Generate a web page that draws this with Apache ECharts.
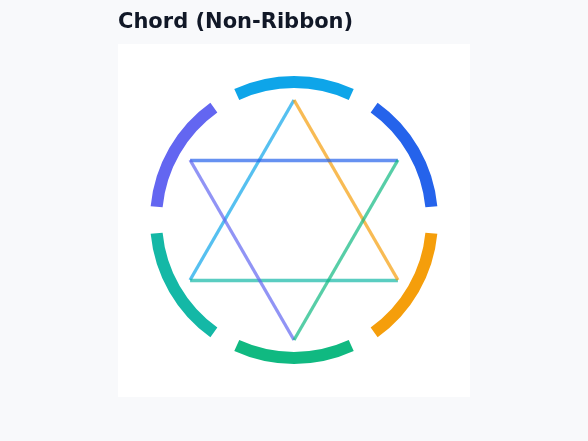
<!DOCTYPE html>
<html>
<head>
<meta charset="utf-8">
<style>
  html, body { margin: 0; padding: 0; background: #f8f9fb; }
  #chart { width: 588px; height: 441px; }
</style>
<script src="https://cdn.jsdelivr.net/npm/echarts@6/dist/echarts.min.js"></script>
</head>
<body>
<div id="chart"></div>
<script>
"use strict";

// nodes in layout order (circular layout starts at bottom-right, goes clockwise)
var nodeNames = ['D', 'E', 'F', 'A', 'B', 'C'];
var nodeColors = ['#f59e0b', '#10b981', '#14b8a6', '#6366f1', '#0ea5e9', '#2563eb'];
var nodeWeights = [1, 1, 1, 1, 1, 1];

// links (source -> target)
var linkSources = ['B', 'F', 'D', 'C', 'A', 'E'];
var linkTargets = ['F', 'D', 'B', 'A', 'E', 'C'];

var colorOf = {};
nodeNames.forEach(function (n, i) { colorOf[n] = nodeColors[i]; });

var chart = echarts.init(document.getElementById('chart'));

chart.setOption({
  backgroundColor: '#f8f9fb',
  animation: false,
  title: {
    text: 'Chord (Non-Ribbon)',
    left: 113,
    top: 7,
    textStyle: {
      fontFamily: 'DejaVu Sans',
      fontSize: 21,
      fontWeight: 'bold',
      color: '#111827'
    }
  },
  graphic: [{
    type: 'rect',
    z: -10,
    shape: { x: 118, y: 44, width: 352, height: 353 },
    style: { fill: '#ffffff' }
  }],
  series: [{
    type: 'pie',
    center: [294, 220],
    radius: [132, 144],
    startAngle: 0,
    clockwise: true,
    padAngle: 11,
    label: { show: false },
    labelLine: { show: false },
    silent: true,
    data: nodeNames.map(function (n, i) {
      return { name: n, value: nodeWeights[i], itemStyle: { color: nodeColors[i] } };
    })
  }, {
    type: 'graph',
    layout: 'circular',
    left: 174,
    top: 100,
    width: 240,
    height: 240,
    symbolSize: 1,
    itemStyle: { opacity: 0 },
    label: { show: false },
    silent: true,
    data: nodeNames.map(function (n, i) {
      return { name: n, value: nodeWeights[i] };
    }),
    links: linkSources.map(function (s, i) {
      return {
        source: s,
        target: linkTargets[i],
        lineStyle: { color: colorOf[s] }
      };
    }),
    lineStyle: { width: 3.3, opacity: 0.7, curveness: 0 }
  }]
});
</script>
</body>
</html>
